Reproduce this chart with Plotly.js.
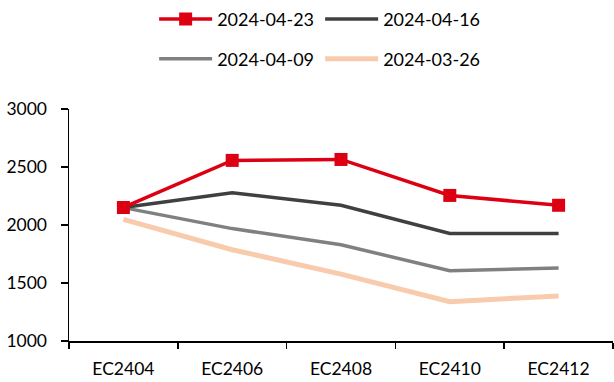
<!DOCTYPE html>
<html>
<head>
<meta charset="utf-8">
<script src="https://cdn.plot.ly/plotly-3.0.1.min.js"></script>
<style>html,body{margin:0;padding:0;background:#fff;}#chart{width:614px;height:382px;}</style>
</head>
<body>
<div id="chart"></div>
<script>
const categories = ["EC2404", "EC2406", "EC2408", "EC2410", "EC2412"];
const seriesNames = ["2024-03-26", "2024-04-09", "2024-04-16", "2024-04-23"];
const s0326 = [2048, 1787, 1577, 1339, 1389];
const s0409 = [2150, 1969, 1830, 1605, 1630];
const s0416 = [2150, 2277, 2170, 1927, 1927];
const s0423 = [2151, 2557, 2565, 2255, 2170];
const yTicks = [1000, 1500, 2000, 2500, 3000];

const FONT = "Lato, 'Open Sans', sans-serif";

const traces = [
  {x: categories, y: s0326, name: seriesNames[0], type: "scatter", mode: "lines",
   line: {color: "#F8CBAD", width: 5}, legend: "legend2"},
  {x: categories, y: s0409, name: seriesNames[1], type: "scatter", mode: "lines",
   line: {color: "#808080", width: 3.5}, legend: "legend2"},
  {x: categories, y: s0416, name: seriesNames[2], type: "scatter", mode: "lines",
   line: {color: "#404040", width: 3.5}, legend: "legend"},
  {x: categories, y: s0423, name: seriesNames[3], type: "scatter", mode: "lines+markers",
   line: {color: "#DC0012", width: 3.5},
   marker: {symbol: "square", size: 13, color: "#DC0012"}, legend: "legend"}
];

const legendCommon = {
  orientation: "h", xanchor: "left", yanchor: "middle", x: 0.1565,
  traceorder: "reversed", entrywidth: 98, entrywidthmode: "pixels",
  itemwidth: 53, bgcolor: "rgba(0,0,0,0)", font: {family: FONT, size: 18, color: "#000"}
};

const layout = {
  width: 614, height: 382,
  margin: {l: 69, r: 1, t: 104, b: 41},
  paper_bgcolor: "#fff", plot_bgcolor: "#fff",
  font: {family: FONT, size: 17, color: "#000"},
  showlegend: true,
  legend: Object.assign({}, legendCommon, {y: 1.387}),
  legend2: Object.assign({}, legendCommon, {y: 1.215}),
  xaxis: {
    type: "category", showgrid: false, zeroline: false,
    showline: true, linecolor: "#000", linewidth: 1.5,
    ticks: "outside", ticklen: 6, tickcolor: "#000", tickwidth: 1.5,
    tickson: "boundaries", range: [-0.5, 4.5],
    ticklabelstandoff: 11,
    tickfont: {family: FONT, size: 17.5, color: "#000"}
  },
  yaxis: {
    range: [1000, 3000], tickvals: yTicks, showgrid: false, zeroline: false,
    showline: true, linecolor: "#000", linewidth: 1.5,
    ticks: "outside", ticklen: 7, tickcolor: "#000", tickwidth: 1.5,
    ticklabelstandoff: 10,
    tickfont: {family: FONT, size: 17.5, color: "#000"}
  }
};

Plotly.newPlot("chart", traces, layout, {displayModeBar: false, staticPlot: true});
</script>
</body>
</html>
